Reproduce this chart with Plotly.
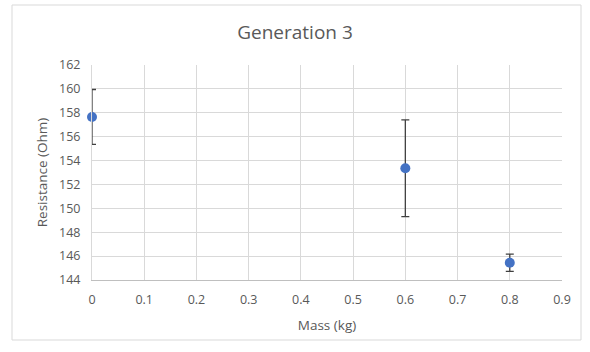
import plotly.graph_objects as go

mass = [0, 0.6, 0.8]
resistance = [157.65, 153.35, 145.45]
err = [2.3, 4.05, 0.72]
x_ticks = [0, 0.1, 0.2, 0.3, 0.4, 0.5, 0.6, 0.7, 0.8, 0.9]
y_ticks = list(range(144, 163, 2))

W, H = 590, 352
L, R, T, B = 92, 28, 65, 72
pw, ph = W - L - R, H - T - B

fig = go.Figure(go.Scatter(
    x=mass, y=resistance, mode="markers",
    marker=dict(color="#4472C4", size=10),
    error_y=dict(type="data", array=err, visible=True, color="#404040", thickness=1.3, width=4),
    cliponaxis=False,
))

font = "Open Sans, Liberation Sans, sans-serif"
fig.update_layout(
    width=W, height=H,
    margin=dict(l=L, r=R, t=T, b=B),
    paper_bgcolor="white", plot_bgcolor="white",
    showlegend=False,
    title=dict(text="Generation 3", x=0.5, xanchor="center", y=1 - 32 / H, yanchor="middle",
               font=dict(family=font, size=19, color="#595959")),
    font=dict(family=font, color="#595959"),
    xaxis=dict(range=[0, 0.9], tickvals=x_ticks, ticktext=[f"{v:g}" for v in x_ticks],
               showgrid=True, gridcolor="#d9d9d9", gridwidth=1,
               showline=True, linecolor="#bfbfbf", linewidth=1, zeroline=False,
               ticks="", ticklabelstandoff=8, tickfont=dict(size=12.5, color="#595959"),
               title=dict(text="Mass (kg)", font=dict(size=13.5, color="#595959"), standoff=13)),
    yaxis=dict(range=[144, 162], tickvals=y_ticks,
               showgrid=True, gridcolor="#d9d9d9", gridwidth=1,
               showline=True, linecolor="#d9d9d9", linewidth=1, zeroline=False,
               ticks="", ticklabelstandoff=8, tickfont=dict(size=12.5, color="#595959"),
               title=dict(text="Resistance (Ohm)", font=dict(size=13.5, color="#595959"), standoff=8)),
    shapes=[dict(type="rect", xref="paper", yref="paper",
                 x0=(12 - L) / pw, x1=(581 - L) / pw,
                 y0=(H - B - 340) / ph, y1=(H - B - 5) / ph,
                 line=dict(color="#d9d9d9", width=1), fillcolor="rgba(0,0,0,0)", layer="below")],
)

fig.write_html("out.html")
